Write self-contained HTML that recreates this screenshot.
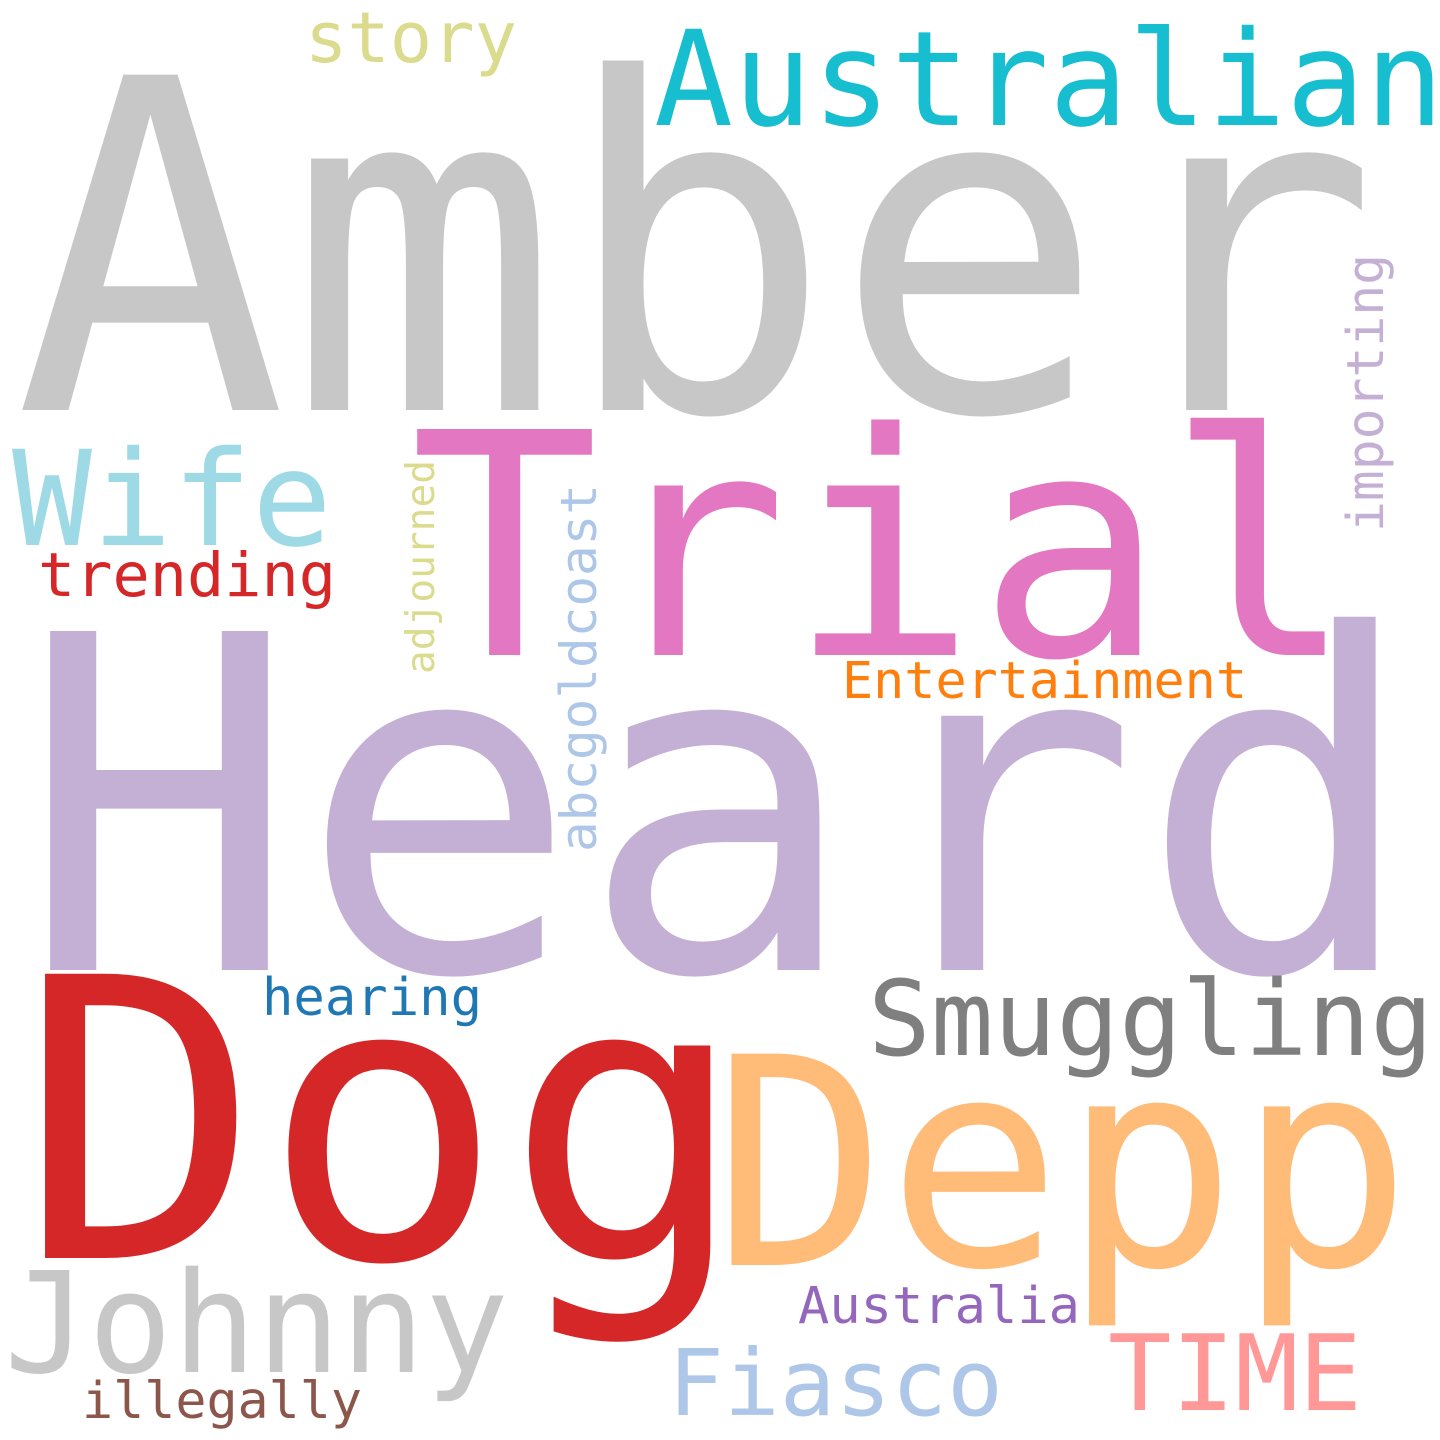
<!DOCTYPE html>
<html><head><meta charset="utf-8">
<style>
html,body{margin:0;padding:0;background:#fff;}
svg{display:block;}
text{font-family:"DejaVu Sans Mono","Liberation Mono",monospace;}
</style></head>
<body>
<svg id="cloud" width="1440" height="1440" viewBox="0 0 1440 1440" xmlns="http://www.w3.org/2000/svg">
<rect width="1440" height="1440" fill="#ffffff"/>
</svg>
<script>
const words = ["Amber","Heard","Dog","Trial","Depp","Australian","Wife","Smuggling","Johnny","TIME","Fiasco","story","trending","Entertainment","hearing","Australia","illegally","importing","abcgoldcoast","adjourned"];
const sizes = [460,465,390,310,290,132,132,104,140,105,92,70,61,51,52,51,51,51,50,39];
const colors = ["#c7c7c7","#c5b0d5","#d62728","#e377c2","#ffbb78","#17becf","#9edae5","#7f7f7f","#c7c7c7","#ff9896","#aec7e8","#dbdb8d","#d62728","#ff7f0e","#1f77b4","#9467bd","#8c564b","#c5b0d5","#aec7e8","#dbdb8d"];
const xs = [14,19,18,410,712,654,12,868,4,1108,668,305,38,842,262,798,82,1383,596,434];
const ys = [410,970,1258,655,1265,125,545,1055,1372,1410,1415,62,596,698,1015,1323,1418,532,852,674];
const lens = [1365,1400,730,945,700,790,320,565,505,254,335,212,298,405,220,282,280,278,368,214];
const vertical = [0,0,0,0,0,0,0,0,0,0,0,0,0,0,0,0,0,1,1,1];

const svg = document.getElementById('cloud');
const NS = "http://www.w3.org/2000/svg";
for (let i = 0; i < words.length; i++) {
  const t = document.createElementNS(NS, 'text');
  
  
  t.setAttribute('x', xs[i]);
  t.setAttribute('y', ys[i]);
  t.setAttribute('font-size', sizes[i]);
  t.setAttribute('fill', colors[i]);
  t.setAttribute('textLength', lens[i]);
  t.setAttribute('lengthAdjust', 'spacingAndGlyphs');
  if (vertical[i]) t.setAttribute('transform', 'rotate(-90 ' + xs[i] + ' ' + ys[i] + ')');
  t.textContent = words[i];
  svg.appendChild(t);
}
</script>
</body></html>
